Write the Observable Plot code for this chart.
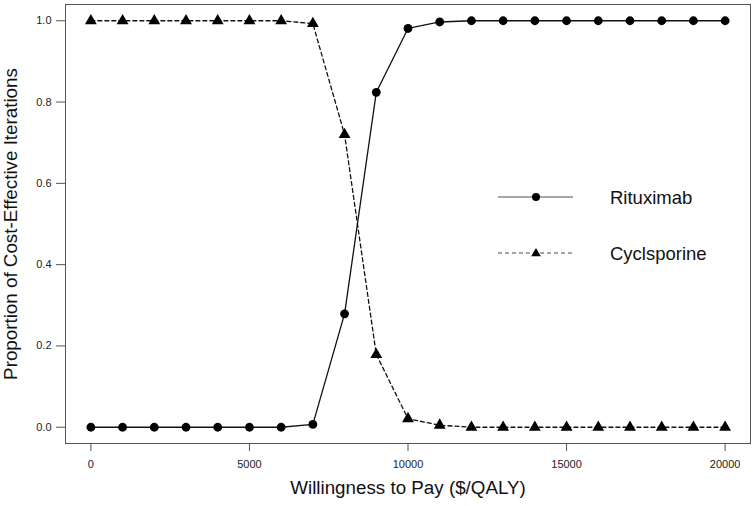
<!DOCTYPE html>
<html>
<head>
<meta charset="utf-8">
<script src="https://cdn.jsdelivr.net/npm/d3@7"></script>
<script src="https://cdn.jsdelivr.net/npm/@observablehq/plot@0.6"></script>
<style>
  html, body { margin: 0; padding: 0; background: #fff; }
  #wrap { position: relative; width: 756px; height: 506px; font-family: "Liberation Sans", Arial, sans-serif; }
  #legend { position: absolute; left: 497px; top: 187px; }
  .lg { display: flex; align-items: center; height: 20px; margin-bottom: 36px; }
  .lg span { font-size: 18.5px; color: #111; margin-left: 36px; position: relative; top: 1px; }
</style>
</head>
<body>
<div id="wrap"></div>
<script>
const wtp = [0,1000,2000,3000,4000,5000,6000,7000,8000,9000,10000,11000,12000,13000,14000,15000,16000,17000,18000,19000,20000];
const rituximab = [0,0,0,0,0,0,0,0.007,0.279,0.824,0.981,0.997,1,1,1,1,1,1,1,1,1];
const cyclosporine = [1,1,1,1,1,1,1,0.993,0.72,0.179,0.021,0.005,0,0,0,0,0,0,0,0,0];
const xTicks = [0,5000,10000,15000,20000];
const yTicks = [0,0.2,0.4,0.6,0.8,1.0];
const seriesNames = ["Rituximab","Cyclsporine"];

const rows = [];
wtp.forEach((w,i)=>{
  rows.push({x:w, y:rituximab[i], s:seriesNames[0]});
  rows.push({x:w, y:cyclosporine[i], s:seriesNames[1]});
});
const r1 = rows.filter(d=>d.s===seriesNames[0]);
const r2 = rows.filter(d=>d.s===seriesNames[1]);

const chart = Plot.plot({
  width: 756,
  height: 506,
  marginLeft: 65,
  marginRight: 6,
  marginTop: 4,
  marginBottom: 63,
  style: {fontFamily: "'Liberation Sans', Arial, sans-serif", background: "#fff", color: "#222"},
  x: {domain: [-800, 20800]},
  y: {domain: [-0.04, 1.04]},
  marks: [
    Plot.frame({stroke: "#555", strokeWidth: 1}),
    Plot.axisX({ticks: xTicks, tickFormat: d=>String(d), tickSize: 8, tickPadding: 9, fontSize: 11, label: null, stroke: "#555"}),
    Plot.axisY({ticks: yTicks, tickFormat: d=>d.toFixed(1), tickSize: 9, tickPadding: 5, fontSize: 11, label: null, stroke: "#555"}),
    Plot.text(["Willingness to Pay ($/QALY)"], {frameAnchor: "bottom", dy: 50, fontSize: 18.8, fill: "#111"}),
    Plot.text(["Proportion of Cost-Effective Iterations"], {frameAnchor: "left", textAnchor: "middle", dx: -55, rotate: -90, fontSize: 18.8, fill: "#111"}),
    Plot.line(r1, {x:"x", y:"y", stroke:"#111", strokeWidth:1.3}),
    Plot.line(r2, {x:"x", y:"y", stroke:"#111", strokeWidth:1.3, strokeDasharray:"4,3"}),
    Plot.dot(r1, {x:"x", y:"y", r:4.4, fill:"#000", symbol:"circle"}),
    Plot.dot(r2, {x:"x", y:"y", r:4.4, fill:"#000", symbol:"triangle"})
  ]
});
document.getElementById("wrap").appendChild(chart);

// legend (HTML overlay)
const lg = document.createElement("div");
lg.id = "legend";
const mk = (name, dashed, sym) => {
  const row = document.createElement("div"); row.className = "lg";
  const sv = d3.create("svg").attr("width", 77).attr("height", 20);
  sv.append("line").attr("x1",1).attr("x2",76).attr("y1",10).attr("y2",10)
    .attr("stroke", "#888").attr("stroke-width",1.3)
    .attr("stroke-dasharray", dashed ? "4,3" : null);
  if (sym === "circle") sv.append("circle").attr("cx",39).attr("cy",10).attr("r",4).attr("fill","#000");
  else sv.append("path").attr("d", d3.symbol(d3.symbolTriangle, 40)()).attr("transform","translate(39,10.5)").attr("fill","#000");
  row.appendChild(sv.node());
  const t = document.createElement("span"); t.textContent = name; row.appendChild(t);
  return row;
};
lg.appendChild(mk(seriesNames[0], false, "circle"));
lg.appendChild(mk(seriesNames[1], true, "triangle"));
document.getElementById("wrap").appendChild(lg);
</script>
</body>
</html>
